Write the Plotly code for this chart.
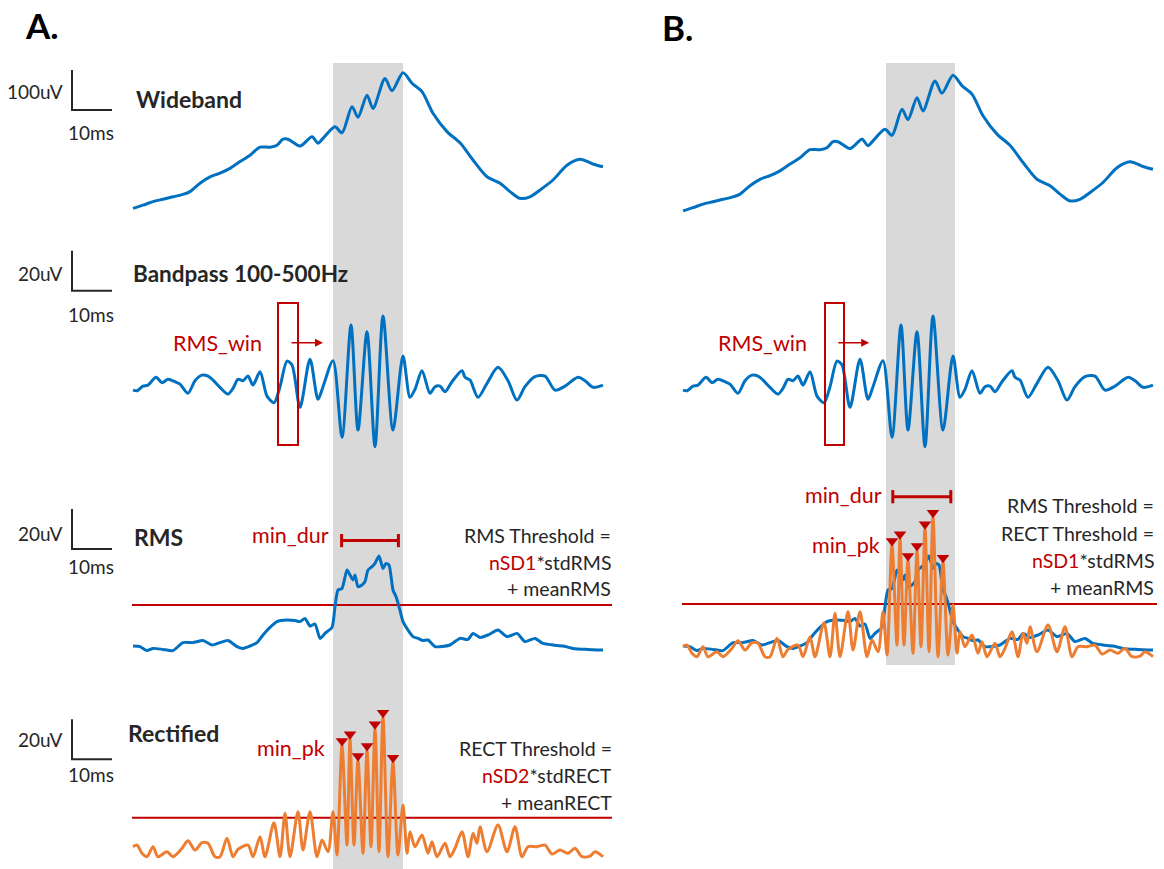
import numpy as np
import plotly.graph_objects as go

# ---------------- data (sample index at fs = 4 kHz, amplitude in uV) ----------------
FS_KHZ = 4.0

wb_idx = [1, 11, 21, 31, 41, 51, 58, 68, 78, 88, 98, 108, 118, 128, 138, 145, 151, 156, 168, 180,
          186, 191, 203, 210, 220, 226, 235, 241, 253, 260, 271, 280, 290, 301, 315, 328, 341, 355, 368, 378,
          388, 398, 408, 421, 435, 448, 461, 471]
wb_uv = [4, 12, 21, 27, 33, 39, 46, 67, 83, 92, 104, 121, 137, 157, 157, 162, 177, 177, 160, 183,
         167, 179, 208, 193, 258, 232, 287, 254, 329, 298, 343, 317, 296, 242, 196, 168, 125, 83, 67, 46,
         29, 33, 50, 75, 112, 127, 115, 108]

bp_idx = [1, 5, 11, 16, 24, 30, 36, 43, 48, 56, 63, 70, 76, 81, 88, 96, 101, 106, 111, 116,
          121, 128, 135, 142, 148, 155, 160, 168, 178, 186, 191, 201, 210, 219, 226, 235, 243, 251, 261, 271,
          278, 283, 290, 298, 303, 308, 313, 320, 330, 333, 338, 346, 355, 366, 376, 385, 393, 403, 413, 423,
          433, 446, 453, 461, 471]
bp_uv = [-1.7, -2, 0.3, 0.8, 4.7, 2, 3.7, 2.5, 1.3, -3.3, 3, 5.8, 5.3, 3.3, -0.3, -3.7, -0.8, 3.7, 3, 5.3,
         0.8, 7.5, -4.7, -8, 0, 12.8, 10.8, -10.3, 13.7, -6.3, 0, 13, -25.3, 30.8, -21.7, 27.5, -30, 35.3, -21.7, 15.3,
         -5.3, -1.3, 8, -3.3, 0, 0.3, -2.5, 2.5, 8, 4.7, 3.3, -5.3, 1.7, 9.7, 3, -6.7, 0, 5, 5.3, -1.7,
         0.3, 4.7, 3, -0.3, 0.8]

rms_idx = [1, 8, 15, 21, 31, 41, 51, 61, 71, 80, 88, 96, 105, 111, 118, 125, 131, 138, 145, 155,
           163, 168, 173, 178, 183, 188, 193, 200, 203, 206, 210, 215, 218, 221, 223, 226, 230, 233, 236, 240,
           243, 247, 251, 254, 257, 261, 264, 267, 271, 276, 281, 286, 291, 296, 303, 310, 318, 328, 336, 341,
           348, 356, 366, 375, 385, 393, 403, 411, 421, 431, 441, 455, 471]
rms_uv = [2, 1.7, -0.3, 0.8, 0.3, -0.3, 3.7, 3.7, 4.7, 2.5, 3.7, 4.7, 1.7, 0.8, 2, 3.7, 7.5, 11.3, 14.2, 15,
          14.7, 14.2, 15.8, 12, 13, 5.8, 8.3, 11.3, 21.7, 30, 30.8, 40, 37.5, 35, 37.5, 31.7, 32.5, 34.2, 40, 41.7,
          43.3, 47, 40.8, 43.3, 42.5, 30, 26.7, 21.7, 14.2, 10, 6.7, 5.8, 4.7, 5, 1.7, 1.7, 2.5, 5.8, 5.3, 8.3,
          6.3, 7.5, 10, 6.7, 8.3, 4.2, 5.8, 3.3, 2.5, 2, 0.8, 0.3, 0]

rect_idx = [1, 5, 10, 15, 21, 26, 35, 41, 50, 56, 63, 70, 76, 83, 88, 95, 101, 106, 116, 121,
            128, 133, 142, 148, 153, 158, 166, 171, 178, 185, 190, 196, 201, 205, 210, 215, 218, 222, 226, 231,
            235, 239, 243, 247, 251, 256, 261, 266, 271, 275, 278, 283, 290, 296, 300, 305, 313, 318, 323, 330,
            336, 341, 345, 348, 355, 366, 375, 383, 390, 396, 405, 413, 420, 428, 436, 443, 450, 458, 463, 471]
rect_uv = [5, 5.8, 1.7, 0, 5, 0, 2.5, 0, 4.2, 8, 3.3, 7, 6.7, 0, 0, 9.2, 0, 3.7, 5.8, 0,
           10, 0, 17, 0, 21.7, 0, 22.5, 3.3, 22.5, 0, 8.3, 2.5, 22.5, 0.8, 55.8, 5.8, 59.2, 5.8, 48.3, 1.7,
           53.3, 5, 64.2, 2.5, 70, 0, 47.5, 0.8, 25.8, 1.7, 12.5, 5, 10.8, 1.7, 7.5, 0, 6.7, 0, 4.2, 12.5,
           0, 11.7, 6.7, 15, 2.5, 15.8, 2.5, 15, 0, 5, 5, 5.8, 1.3, 3.3, 1.7, 4.2, 0, 0.3, 2.5, 0]

pk_idx = [210, 218, 226, 235, 243, 251, 261]   # detected peaks (min_pk)

rms_thr_A = 22.5      # uV
rect_thr_A = 19.5     # uV
thr_B = 23.0          # uV
event_A = [50.25, 67.75]   # ms, shaded event window
event_B = [51.0, 68.25]
min_dur_A = [52.4, 66.6]
min_dur_B = [52.7, 67.2]
rmswin_A = [36.5, 41.5]
rmswin_B = [35.75, 40.5]

# ---------------- derived ----------------
t_wb = np.array(wb_idx) / FS_KHZ
t_bp = np.array(bp_idx) / FS_KHZ
t_rms = np.array(rms_idx) / FS_KHZ
t_rect = np.array(rect_idx) / FS_KHZ
t_pk = np.array(pk_idx) / FS_KHZ
v_pk = np.interp(t_pk, t_rect, rect_uv)

W, H = 1164, 869
BLUE = "#0070c0"
ORANGE = "#ed7d31"
RED = "#c00000"
DARK = "#262626"
FONT = "Lato"


def xd(p0, p1):
    return [p0 / W, p1 / W]


def yd(top, bot):
    return [1 - bot / H, 1 - top / H]


fig = go.Figure()


def line(x, y, xa, ya, color, width=3, smooth=0.8, shape="spline"):
    fig.add_trace(go.Scatter(x=x, y=y, xaxis=xa, yaxis=ya, mode="lines",
                             line=dict(color=color, width=width, shape=shape,
                                       smoothing=smooth if shape == "spline" else None),
                             hoverinfo="skip", showlegend=False))


# Panel A
line(t_wb, wb_uv, "x", "y", BLUE)
line(t_bp, bp_uv, "x", "y2", BLUE)
line([0, 120], [rms_thr_A, rms_thr_A], "x", "y3", RED, 2, shape="linear")
line(t_rms, rms_uv, "x", "y3", BLUE, smooth=0.6)
line([0, 120], [rect_thr_A, rect_thr_A], "x", "y4", RED, 2, shape="linear")
line(t_rect, rect_uv, "x", "y4", ORANGE)
fig.add_trace(go.Scatter(x=t_pk, y=v_pk + 2.0, xaxis="x", yaxis="y4", mode="markers",
                         marker=dict(symbol="triangle-down", size=11, color=RED),
                         hoverinfo="skip", showlegend=False))

# Panel B
line(t_wb, wb_uv, "x2", "y5", BLUE)
line(t_bp, bp_uv, "x2", "y6", BLUE)
line([0, 118.75], [thr_B, thr_B], "x2", "y7", RED, 2, shape="linear")
line(t_rect, rect_uv, "x2", "y8", ORANGE)
line(t_rms, rms_uv, "x2", "y7", BLUE, smooth=0.6)
fig.add_trace(go.Scatter(x=t_pk, y=v_pk + 2.0, xaxis="x2", yaxis="y8", mode="markers",
                         marker=dict(symbol="triangle-down", size=11, color=RED),
                         hoverinfo="skip", showlegend=False))

# scale bars (10 ms horizontal, 100 / 20 uV vertical)
bars = [("y", 350, 100), ("y2", 68, 20), ("y3", 70.5, 20), ("y4", 68.7, 20)]
for ya, top, amp in bars:
    line([-15, -15, -5], [top, top - amp, top - amp], "x", ya, DARK, 2, shape="linear")

shapes = []
# event windows
shapes.append(dict(type="rect", xref="x", yref="paper", x0=event_A[0], x1=event_A[1],
                   y0=0, y1=1 - 63 / H, fillcolor="#d9d9d9", line=dict(width=0), layer="below"))
shapes.append(dict(type="rect", xref="x2", yref="paper", x0=event_B[0], x1=event_B[1],
                   y0=1 - 665 / H, y1=1 - 63 / H, fillcolor="#d9d9d9", line=dict(width=0), layer="below"))
# RMS windows
shapes.append(dict(type="rect", xref="x", yref="y2", x0=rmswin_A[0], x1=rmswin_A[1],
                   y0=-29.15, y1=41.85, line=dict(color=RED, width=2)))
shapes.append(dict(type="rect", xref="x2", yref="y6", x0=rmswin_B[0], x1=rmswin_B[1],
                   y0=-29.15, y1=41.85, line=dict(color=RED, width=2)))
# min_dur bars
for xr, yr, (a, b), yy in [("x", "y3", min_dur_A, 54.7), ("x2", "y7", min_dur_B, 76.65)]:
    shapes.append(dict(type="line", xref=xr, yref=yr, x0=a, x1=b, y0=yy, y1=yy,
                       line=dict(color=RED, width=3)))
    for xx in (a, b):
        shapes.append(dict(type="line", xref=xr, yref=yr, x0=xx, x1=xx, y0=yy - 3.3, y1=yy + 3.3,
                           line=dict(color=RED, width=3)))

anns = []


def txt(text, px, py, size=18, color=DARK, anchor="left", bold=False):
    if bold:
        text = "<b>" + text + "</b>"
    anns.append(dict(text=text, x=px / W, y=1 - py / H, xref="paper", yref="paper",
                     xanchor=anchor, yanchor="middle", showarrow=False,
                     font=dict(family=FONT, size=size, color=color)))


def red(s):
    return "<span style='color:%s'>%s</span>" % (RED, s)


txt("A.", 23, 25, 35, "#000000", bold=True)
txt("B.", 660, 27, 35, "#000000", bold=True)

for lab, py_u, py_t in [("100uV", 92, 132), ("20uV", 274, 315), ("20uV", 533, 566), ("20uV", 739, 774)]:
    txt(lab, 65, py_u, 19, anchor="right")
    txt("10ms", 91, py_t, 19, anchor="center")

txt("Wideband", 134, 99, 23, bold=True)
txt("Bandpass 100-500Hz", 131, 274, 22.5, bold=True)
txt("RMS", 132, 537, 23, bold=True)
txt("Rectified", 126, 733, 23, bold=True)

RS = 21.5
txt("RMS_win", 264, 343, RS, RED, anchor="right")
txt("RMS_win", 809, 343, RS, RED, anchor="right")
txt("min_dur", 331, 535, RS, RED, anchor="right")
txt("min_dur", 884, 495, RS, RED, anchor="right")
txt("min_pk", 327, 748, RS, RED, anchor="right")
txt("min_pk", 882, 545, RS, RED, anchor="right")

TS = 19.5
txt("RMS Threshold =", 613, 535, TS, anchor="right")
txt(red("nSD1") + "*stdRMS", 613, 562, TS, anchor="right")
txt("+ meanRMS", 613, 588, TS, anchor="right")

txt("RECT Threshold =", 614, 748, TS, anchor="right")
txt(red("nSD2") + "*stdRECT", 614, 775, TS, anchor="right")
txt("+ meanRECT", 614, 802, TS, anchor="right")

txt("RMS Threshold =", 1156, 505, TS, anchor="right")
txt("RECT Threshold =", 1156, 533, TS, anchor="right")
txt(red("nSD1") + "*stdRMS", 1156, 560, TS, anchor="right")
txt("+ meanRMS", 1156, 587, TS, anchor="right")

# arrows for RMS window sliding
for xr, yr, x0, x1 in [("x", "y2", 39.5, 47.75), ("x2", "y6", 38.7, 46.8)]:
    anns.append(dict(x=x1, y=22, ax=x0, ay=22, xref=xr, yref=yr, axref=xr, ayref=yr,
                     text="", showarrow=True, arrowhead=2, arrowsize=1, arrowwidth=1.6,
                     arrowcolor=RED))

ax_common = dict(visible=False, showgrid=False, zeroline=False, fixedrange=True)
fig.update_layout(
    width=W, height=H, margin=dict(l=0, r=0, t=0, b=0),
    paper_bgcolor="white", plot_bgcolor="rgba(0,0,0,0)", showlegend=False,
    xaxis=dict(domain=xd(52, 612), range=[-20, 120], **ax_common),
    xaxis2=dict(domain=xd(682, 1162), range=[0, 120], **ax_common),
    yaxis=dict(domain=yd(60, 220), range=[-25, 375], anchor="x", **ax_common),
    yaxis2=dict(domain=yd(240, 460), range=[-36.65, 73.35], anchor="x", **ax_common),
    yaxis3=dict(domain=yd(500, 670), range=[-10, 75], anchor="x", **ax_common),
    yaxis4=dict(domain=yd(690, 869), range=[-6.15, 83.35], anchor="x", **ax_common),
    yaxis5=dict(domain=yd(62.5, 222.5), range=[-25, 375], anchor="x2", **ax_common),
    yaxis6=dict(domain=yd(240, 460), range=[-36.65, 73.35], anchor="x2", **ax_common),
    yaxis7=dict(domain=yd(490, 690), range=[-20, 80], anchor="x2", **ax_common),
    yaxis8=dict(domain=yd(490, 690), range=[-16.65, 83.35], anchor="x2", **ax_common),
    shapes=shapes, annotations=anns,
)

fig.write_html("out.html", config={"displayModeBar": False},
               post_script="document.body.style.margin='0px';document.body.style.overflow='hidden';")
